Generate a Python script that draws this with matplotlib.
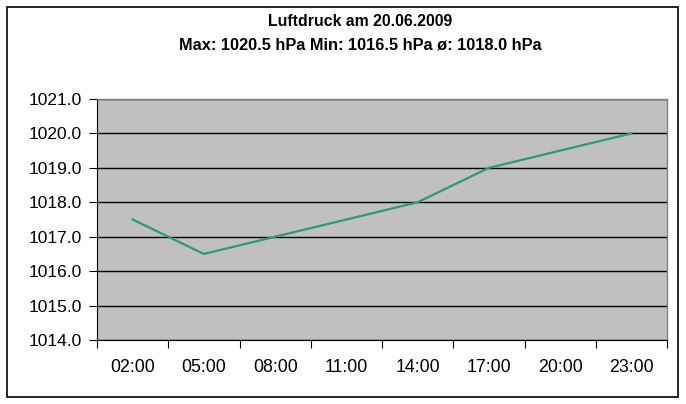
import numpy as np
import matplotlib.pyplot as plt
from matplotlib.patches import Rectangle

plt.rcParams['font.family'] = ['Liberation Sans', 'DejaVu Sans']

# Daten
zeiten = ['02:00', '05:00', '08:00', '11:00', '14:00', '17:00', '20:00', '23:00']
druck = [1017.5, 1016.5, 1017.0, 1017.5, 1018.0, 1019.0, 1019.5, 1020.0]
y_ticks = [1014.0, 1015.0, 1016.0, 1017.0, 1018.0, 1019.0, 1020.0, 1021.0]

fig = plt.figure(figsize=(6.86, 4.04), dpi=100)
fig.patch.set_facecolor('white')

# Rahmen um das Diagramm
fig.patches.append(Rectangle((7 / 686, 7 / 404), 671 / 686, 390 / 404,
                             transform=fig.transFigure, fill=False,
                             edgecolor='black', linewidth=1.2))

ax = fig.add_axes([97 / 686, 1 - 340 / 404, 570 / 686, 241 / 404])
ax.set_facecolor('#C0C0C0')

x = np.arange(len(zeiten))
ax.plot(x, druck, color='#339966', linewidth=1.6, zorder=3)

ax.set_xlim(-0.5, len(zeiten) - 0.5)
ax.set_ylim(y_ticks[0], y_ticks[-1])
ax.set_yticks(y_ticks)
ax.set_yticklabels(['%.1f' % v for v in y_ticks], fontsize=12.5)
ax.yaxis.grid(True, color='black', linewidth=1)

# Kategorieachse: Striche zwischen den Kategorien
ax.set_xticks(np.arange(-0.5, len(zeiten)), minor=False)
ax.set_xticklabels([])
ax.set_xticks(x, minor=True)
ax.set_xticklabels(zeiten, minor=True, fontsize=12.8)
ax.tick_params(axis='x', which='minor', length=0, pad=14)
ax.tick_params(axis='x', which='major', length=6, direction='out', color='black')
ax.tick_params(axis='y', length=6, direction='out', pad=5)

for s in ['top', 'right']:
    ax.spines[s].set_color('#808080')
    ax.spines[s].set_linewidth(1)
ax.spines['left'].set_color('black')
ax.spines['bottom'].set_color('black')

# Titel (leicht rechts der Mitte, wie im Original)
fig.text(360 / 686, 1 - 22 / 404, 'Luftdruck am 20.06.2009', ha='center', va='center',
         fontsize=11.4, fontweight='bold')
fig.text(360 / 686, 1 - 45 / 404, 'Max: 1020.5 hPa Min: 1016.5 hPa ø: 1018.0 hPa',
         ha='center', va='center', fontsize=11.8, fontweight='bold')

fig.savefig('out.png', dpi=100, facecolor='white')
